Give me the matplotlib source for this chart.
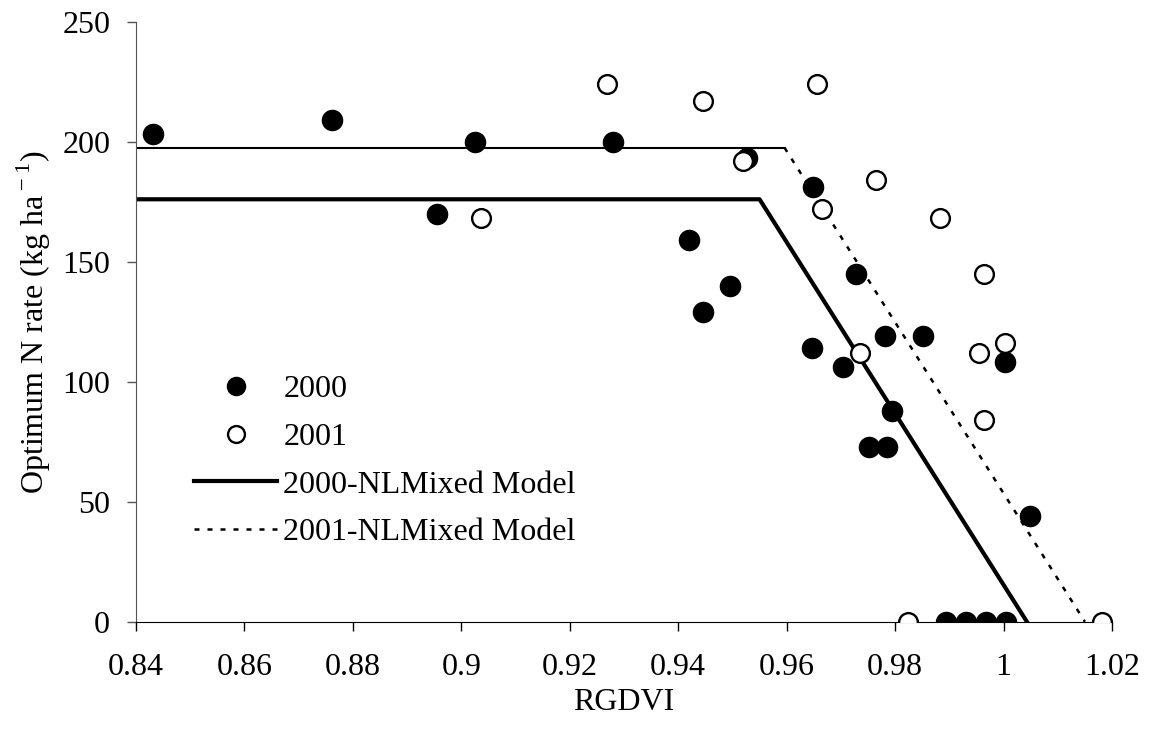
import numpy as np
import matplotlib
matplotlib.use('Agg')
import matplotlib.pyplot as plt

plt.rcParams['font.family'] = ['Liberation Serif', 'DejaVu Serif']
plt.rcParams['mathtext.fontset'] = 'custom'
plt.rcParams['mathtext.rm'] = 'Liberation Serif'

# observed optimum N rate vs RGDVI
x_2000 = [0.8432, 0.8761, 0.8956, 0.9026, 0.9279, 0.9420, 0.9445, 0.9495, 0.9526,
          0.9646, 0.9648, 0.9703, 0.9727, 0.9751, 0.9781, 0.9785, 0.9794, 0.9851,
          1.0003, 1.0048, 0.9894, 0.9931, 0.9967, 1.0004]
y_2000 = [203, 209, 170, 200, 200, 159, 129, 140, 193,
          114, 181, 106, 145, 73, 119, 73, 88, 119,
          108, 44, 0, 0, 0, 0]

x_2001 = [0.9037, 0.9268, 0.9445, 0.9519, 0.9656, 0.9665, 0.9736, 0.9764, 0.9883,
          0.9954, 0.9963, 0.9964, 1.0003, 0.9824, 1.0182]
y_2001 = [168, 224, 217, 192, 224, 172, 112, 184, 168,
          112, 84, 145, 116, 0, 0]

# NLMixed linear-plateau models
model_2000_x = [0.84, 0.955, 1.0043]
model_2000_y = [176, 176, 0]
plateau_2001_x = [0.84, 0.9596]
plateau_2001_y = [197.5, 197.5]
slope_2001_x = [0.9596, 1.0150]
slope_2001_y = [197.5, 0]

fig = plt.figure(figsize=(11.55, 7.42), dpi=100)
ax = fig.add_axes([0.1177, 0.1621, 0.8451, 0.8087])

ax.plot(model_2000_x, model_2000_y, color='black', lw=3, zorder=2,
        label='2000-NLMixed Model')
ax.plot(plateau_2001_x, plateau_2001_y, color='black', lw=1.5, zorder=2)
ax.plot(slope_2001_x, slope_2001_y, color='black', lw=1.8, ls=(0, (2, 3.2)), zorder=2,
        label='2001-NLMixed Model')

ax.plot(x_2000, y_2000, 'o', color='black', ms=14.5, ls='none', zorder=3, label='2000')
ax.plot(x_2001, y_2001, 'o', mfc='white', mec='black', mew=1.7, ms=13.5, ls='none',
        zorder=3, label='2001')

ax.set_xlim(0.84, 1.02)
ax.set_ylim(0, 250)
ax.set_xticks([0.84, 0.86, 0.88, 0.9, 0.92, 0.94, 0.96, 0.98, 1, 1.02])
ax.set_xticklabels(['0.84', '0.86', '0.88', '0.9', '0.92', '0.94', '0.96', '0.98', '1', '1.02'])
ax.set_yticks([0, 50, 100, 150, 200, 250])

for s in ['top', 'right']:
    ax.spines[s].set_visible(False)
ax.spines['left'].set_color('#555555')
ax.spines['bottom'].set_color('black')
ax.tick_params(axis='x', direction='out', length=6.5, width=1, labelsize=23, pad=16)
ax.tick_params(axis='y', direction='out', length=6.5, width=1, labelsize=23, pad=12,
               colors='#555555', labelcolor='black')

ax.set_xlabel('RGDVI', fontsize=23, labelpad=4)
ax.set_ylabel('Optimum N rate (kg ha$^{\\rm -1}$)', fontsize=23, labelpad=7)

h, l = ax.get_legend_handles_labels()
order = [2, 3, 0, 1]
ax.legend([h[i] for i in order], [l[i] for i in order], loc='upper left',
          bbox_to_anchor=(0.03, 0.46), frameon=False, fontsize=23,
          handlelength=2.6, handletextpad=0.2, labelspacing=0.58, markerscale=0.9)

fig.savefig('out.png', dpi=100)
